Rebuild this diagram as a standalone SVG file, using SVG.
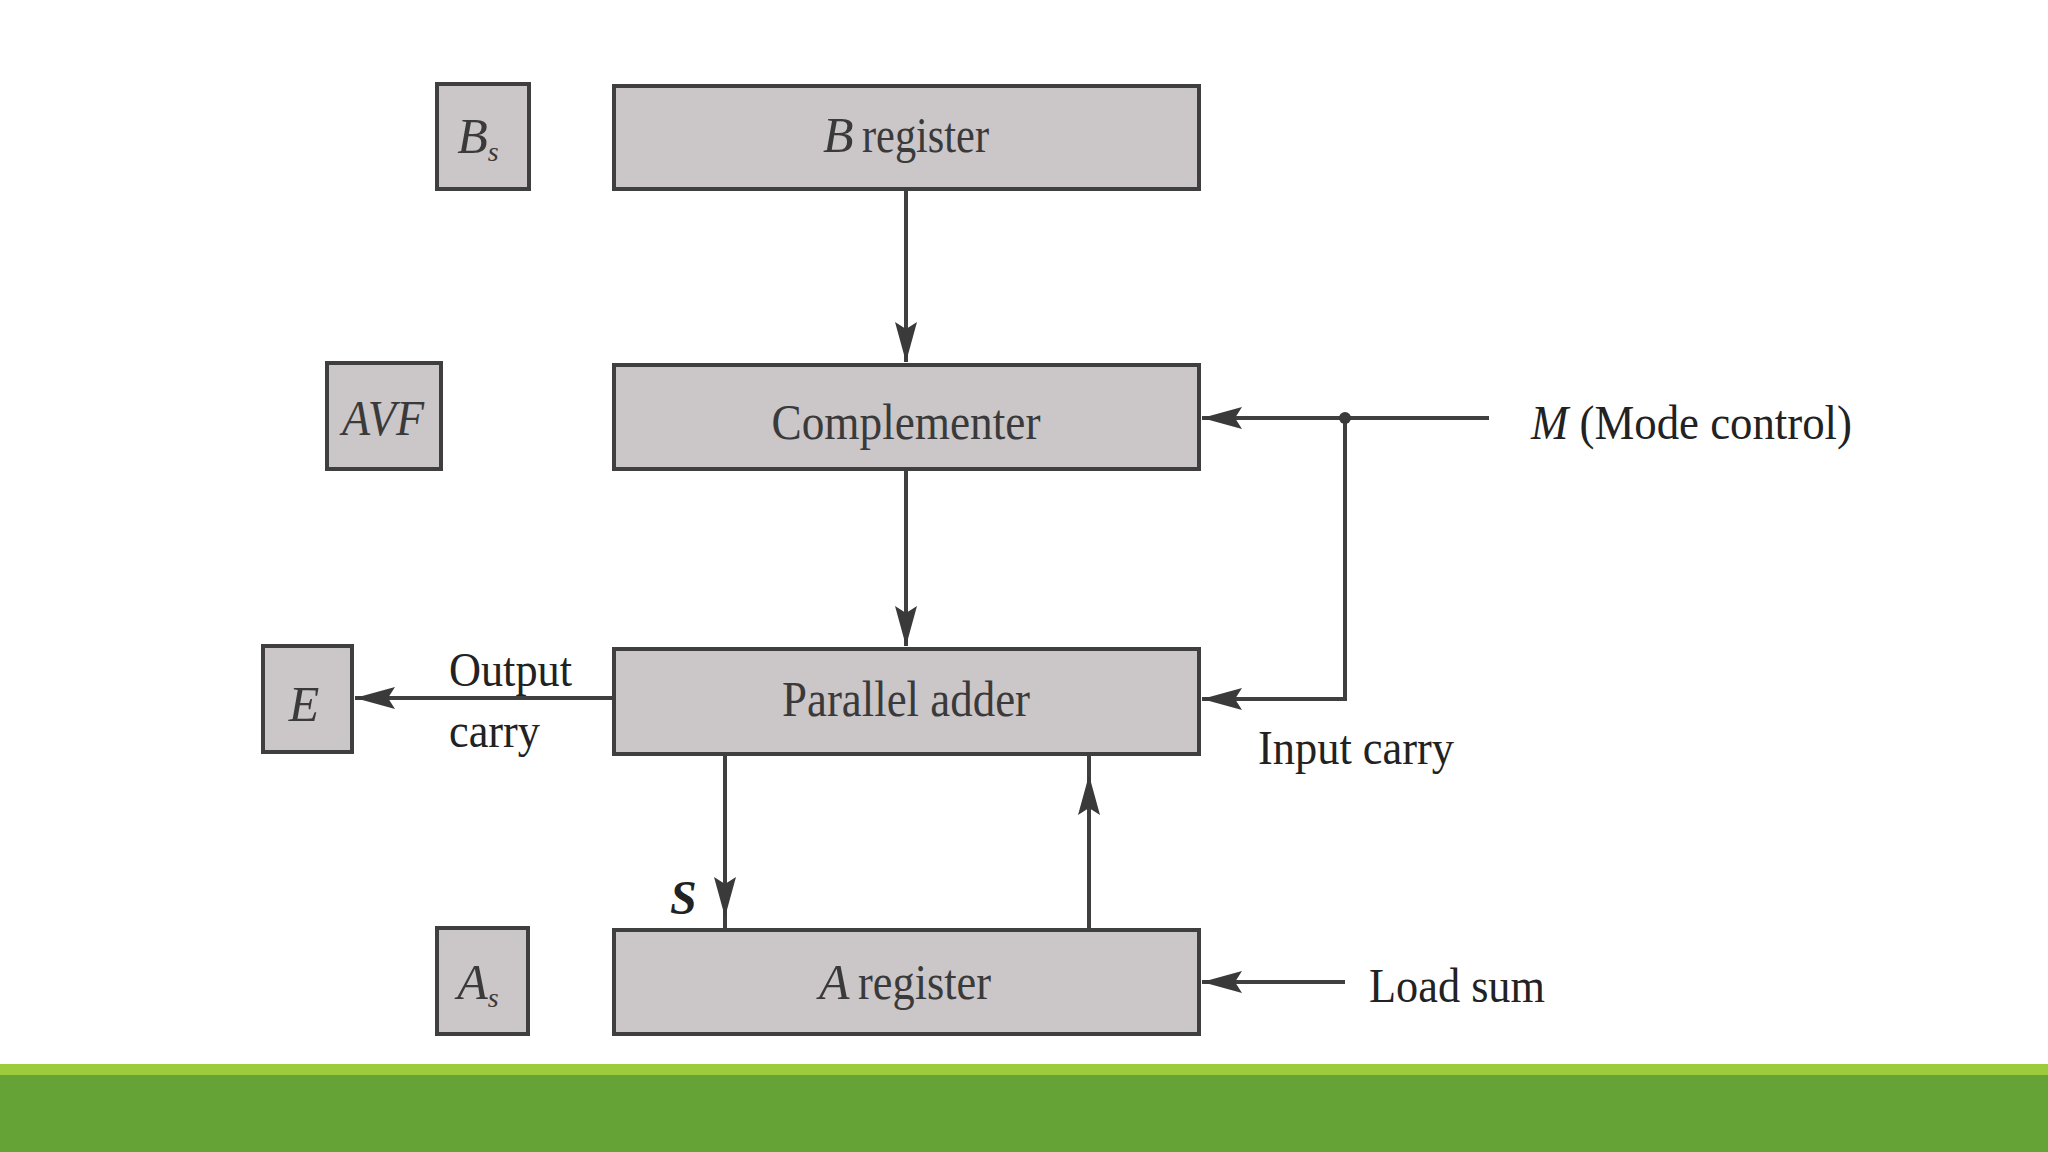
<svg xmlns="http://www.w3.org/2000/svg" width="2048" height="1152" viewBox="0 0 2048 1152">
<style>
.box{fill:#cbc6c8;stroke:#3f3f3f;stroke-width:4}
.lbl{font-family:"Liberation Serif","Times New Roman",serif;font-size:50px;fill:#3a3a3a;text-anchor:middle}
.st{text-anchor:start}
.it{font-style:italic}
.side{font-family:"Liberation Serif","Times New Roman",serif;font-size:48px;fill:#222}
.wire{fill:none;stroke:#3f3f3f;stroke-width:4}
</style>
<defs>
<marker id="arr" markerUnits="userSpaceOnUse" markerWidth="44" markerHeight="28" refX="40" refY="12" orient="auto">
<path d="M0,1 L40,12 L0,23 L7,12 Z" fill="#3a3a3a"/>
</marker>
</defs>
<rect width="2048" height="1152" fill="#ffffff"/>

<g id="connectors">
<line class="wire" x1="906" y1="189" x2="906" y2="362" marker-end="url(#arr)"/>
<line class="wire" x1="906" y1="469" x2="906" y2="646" marker-end="url(#arr)"/>
<line class="wire" x1="1489" y1="418" x2="1202" y2="418" marker-end="url(#arr)"/>
<polyline class="wire" points="1345,418 1345,699 1202,699" marker-end="url(#arr)"/>
<circle cx="1345" cy="418" r="6" fill="#3a3a3a"/>
<line class="wire" x1="614" y1="698" x2="355" y2="698" marker-end="url(#arr)"/>
<line class="wire" x1="725" y1="754" x2="725" y2="929"/>
<line class="wire" x1="725" y1="760" x2="725" y2="917" marker-end="url(#arr)"/>
<line class="wire" x1="1089" y1="929" x2="1089" y2="754"/>
<line class="wire" x1="1089" y1="920" x2="1089" y2="775" marker-end="url(#arr)"/>
<line class="wire" x1="1345" y1="982" x2="1202" y2="982" marker-end="url(#arr)"/>
</g>

<g id="bs">
<rect class="box" x="437" y="84" width="92" height="105"/>
<text class="lbl it" x="478" y="153" font-size="48">B<tspan font-size="28" dy="8">s</tspan></text>
</g>
<g id="b-register">
<rect class="box" x="614" y="86" width="585" height="103"/>
<text class="lbl it st" x="823" y="152">B</text>
<text class="lbl st" x="862" y="152" textLength="127" lengthAdjust="spacingAndGlyphs">register</text>
</g>
<g id="avf">
<rect class="box" x="327" y="363" width="114" height="106"/>
<text class="lbl it" x="383" y="435" textLength="82" lengthAdjust="spacingAndGlyphs">AVF</text>
</g>
<g id="complementer">
<rect class="box" x="614" y="365" width="585" height="104"/>
<text class="lbl" x="906" y="439" textLength="269" lengthAdjust="spacingAndGlyphs">Complementer</text>
</g>
<g id="mode">
<text class="side" x="1531" y="439" textLength="321" lengthAdjust="spacingAndGlyphs"><tspan font-style="italic">M</tspan> (Mode control)</text>
</g>
<g id="e">
<rect class="box" x="263" y="646" width="89" height="106"/>
<text class="lbl it" x="304" y="721">E</text>
</g>
<g id="output-carry">
<text class="side" x="449" y="686" textLength="123" lengthAdjust="spacingAndGlyphs">Output</text>
<text class="side" x="449" y="747" textLength="91" lengthAdjust="spacingAndGlyphs">carry</text>
</g>
<g id="parallel-adder">
<rect class="box" x="614" y="649" width="585" height="105"/>
<text class="lbl" x="906" y="716" textLength="248" lengthAdjust="spacingAndGlyphs">Parallel adder</text>
</g>
<g id="input-carry">
<text class="side" x="1258" y="764" textLength="196" lengthAdjust="spacingAndGlyphs">Input carry</text>
</g>
<g id="s-label">
<text class="side" x="670" y="914" font-style="italic" font-weight="bold" font-size="46">S</text>
</g>
<g id="as">
<rect class="box" x="437" y="928" width="91" height="106"/>
<text class="lbl it" x="478" y="999" font-size="48">A<tspan font-size="28" dy="8">s</tspan></text>
</g>
<g id="a-register">
<rect class="box" x="614" y="930" width="585" height="104"/>
<text class="lbl it st" x="819" y="999">A</text>
<text class="lbl st" x="858" y="999" textLength="133" lengthAdjust="spacingAndGlyphs">register</text>
</g>
<g id="load-sum">
<text class="side" x="1369" y="1002" textLength="176" lengthAdjust="spacingAndGlyphs">Load sum</text>
</g>

<g id="footer">
<rect x="0" y="1064" width="2048" height="12" fill="#9ccb3b"/>
<rect x="0" y="1075" width="2048" height="77" fill="#65a337"/>
</g>
</svg>
